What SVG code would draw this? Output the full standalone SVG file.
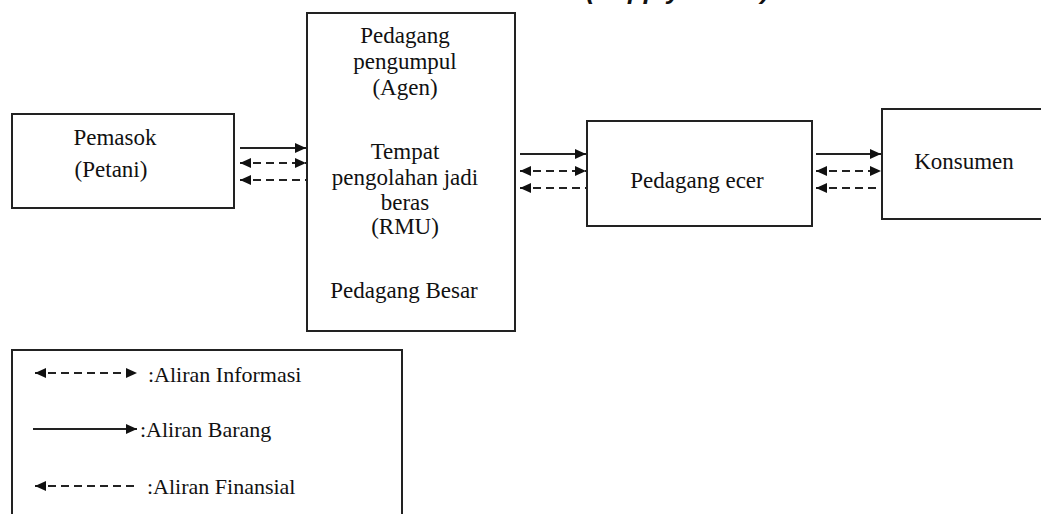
<svg xmlns="http://www.w3.org/2000/svg" width="1041" height="514" viewBox="0 0 1041 514">
<defs>
<marker id="ah" markerUnits="userSpaceOnUse" markerWidth="12" markerHeight="10" refX="11" refY="5" orient="auto-start-reverse">
<path d="M0,0 L11,5 L0,10 z" fill="#111"/>
</marker>
<style>
.box{fill:#fff;stroke:#222;stroke-width:2}
.t{font-family:"Liberation Serif","Times New Roman",serif;font-size:23px;fill:#111;text-anchor:middle}
.tl{font-family:"Liberation Serif","Times New Roman",serif;font-size:22px;fill:#111}
.solid{stroke:#222;stroke-width:2;fill:none}
.dash{stroke:#222;stroke-width:2;fill:none;stroke-dasharray:8 5}
.title{font-family:"Liberation Sans",Arial,sans-serif;font-size:26px;font-weight:bold;font-style:italic;fill:#111}
</style>
</defs>
<rect width="1041" height="514" fill="#fff"/>
<text class="title" x="586" y="-1">(Supply Chain)</text>
<g id="pemasok">
<rect class="box" x="12" y="114" width="222" height="94"/>
<text class="t" x="115" y="145">Pemasok</text>
<text class="t" x="111" y="177">(Petani)</text>
</g>
<g id="pedagang-pengumpul">
<rect class="box" x="307" y="13" width="208" height="318"/>
<text class="t" x="405" y="43">Pedagang</text>
<text class="t" x="405" y="69">pengumpul</text>
<text class="t" x="405" y="95">(Agen)</text>
<text class="t" x="405" y="159">Tempat</text>
<text class="t" x="405" y="185">pengolahan jadi</text>
<text class="t" x="405" y="210">beras</text>
<text class="t" x="405" y="234">(RMU)</text>
<text class="t" x="404" y="298">Pedagang Besar</text>
</g>
<g id="pedagang-ecer">
<rect class="box" x="587" y="121" width="225" height="105"/>
<text class="t" x="697" y="188">Pedagang ecer</text>
</g>
<g id="konsumen">
<rect class="box" x="882" y="109" width="170" height="110"/>
<text class="t" x="964" y="169">Konsumen</text>
</g>
<g id="connectors">
<line class="solid" x1="240" y1="148" x2="306" y2="148" marker-end="url(#ah)"/>
<line class="dash" x1="240" y1="163" x2="306" y2="163" marker-start="url(#ah)" marker-end="url(#ah)"/>
<line class="dash" x1="240" y1="180" x2="307" y2="180" marker-start="url(#ah)"/>
<line class="solid" x1="520" y1="154" x2="586" y2="154" marker-end="url(#ah)"/>
<line class="dash" x1="520" y1="171" x2="586" y2="171" marker-start="url(#ah)" marker-end="url(#ah)"/>
<line class="dash" x1="520" y1="188" x2="587" y2="188" marker-start="url(#ah)"/>
<line class="solid" x1="816" y1="154" x2="881" y2="154" marker-end="url(#ah)"/>
<line class="dash" x1="816" y1="171" x2="881" y2="171" marker-start="url(#ah)" marker-end="url(#ah)"/>
<line class="dash" x1="816" y1="188" x2="882" y2="188" marker-start="url(#ah)"/>
</g>
<g id="legend">
<rect class="box" x="12" y="350" width="390" height="180"/>
<line class="dash" x1="35" y1="373" x2="137" y2="373" marker-start="url(#ah)" marker-end="url(#ah)"/>
<text class="tl" x="148" y="382">:Aliran Informasi</text>
<line class="solid" x1="33" y1="429" x2="137" y2="429" marker-end="url(#ah)"/>
<text class="tl" x="140" y="437">:Aliran Barang</text>
<line class="dash" x1="35" y1="486" x2="137" y2="486" marker-start="url(#ah)"/>
<text class="tl" x="147" y="494">:Aliran Finansial</text>
</g>
</svg>
